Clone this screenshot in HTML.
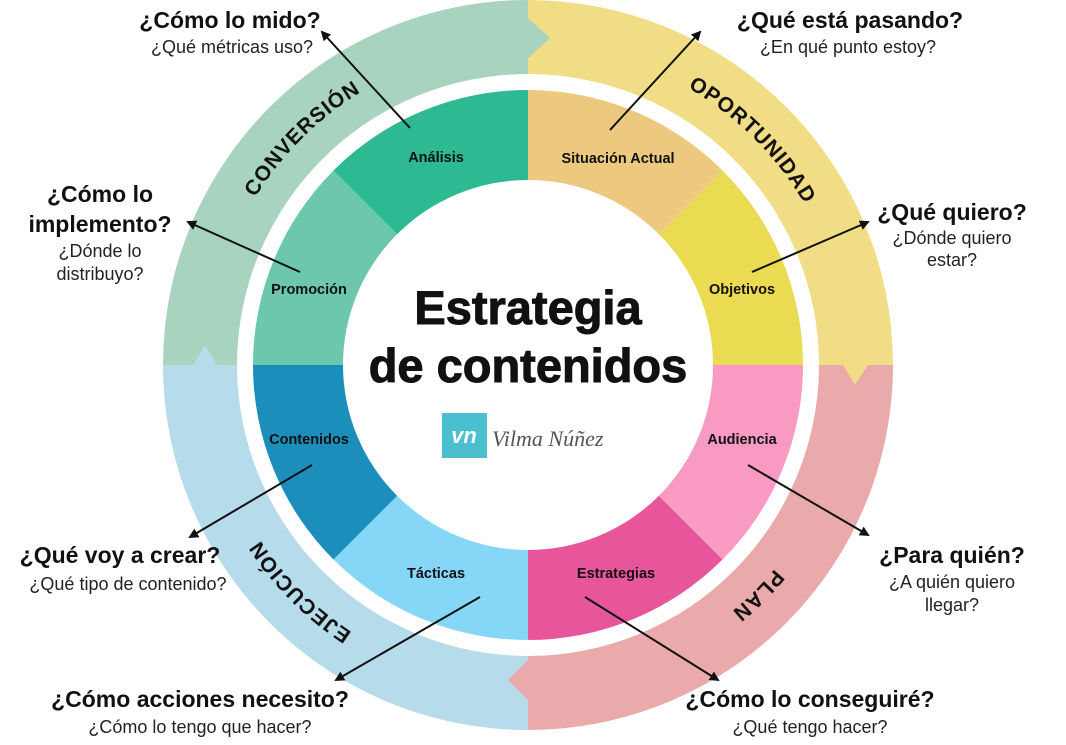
<!DOCTYPE html>
<html><head><meta charset="utf-8"><style>
html,body{margin:0;padding:0;background:#fff;}
svg{display:block;font-family:"Liberation Sans",sans-serif;}
.q{font-weight:bold;font-size:23px;fill:#111;}
.s{font-size:18px;fill:#222;}
.seg{font-weight:bold;font-size:14.5px;fill:#111;}
.ring{font-weight:bold;font-size:21px;fill:#111;letter-spacing:1px;}
</style></head><body>
<svg width="1066" height="745" viewBox="0 0 1066 745" xmlns="http://www.w3.org/2000/svg">
<defs>
<marker id="ah" markerWidth="10" markerHeight="10" refX="8" refY="5" orient="auto" markerUnits="userSpaceOnUse">
<path d="M0,0 L10,5 L0,10 z" fill="#111"/></marker>
<path id="cp" d="M528,45 A320,320 0 1 1 528,685 A320,320 0 1 1 528,45"/>
</defs>
<path d="M528,365 L528,0 A365,365 0 0 1 893,365 Z" fill="#f1dd86"/>
<path d="M528,365 L893,365 A365,365 0 0 1 528,730 Z" fill="#eaaaab"/>
<path d="M528,365 L528,730 A365,365 0 0 1 163,365 Z" fill="#b6dbea"/>
<path d="M528,365 L163,365 A365,365 0 0 1 528,0 Z" fill="#a8d3bf"/>
<path d="M528,18 L550,38 L528,58 Z" fill="#a8d3bf"/>
<path d="M843,365 L855,385 L868,365 Z" fill="#f1dd86"/>
<path d="M508,680 L528,660 L528,700 Z" fill="#eaaaab"/>
<path d="M193,365 L205,345 L217,365 Z" fill="#b6dbea"/>
<circle cx="528" cy="365" r="291" fill="#fff"/>
<text class="ring"><textPath href="#cp" startOffset="251" text-anchor="middle">OPORTUNIDAD</textPath></text>
<text class="ring"><textPath href="#cp" startOffset="754" text-anchor="middle">PLAN</textPath></text>
<text class="ring"><textPath href="#cp" startOffset="1257" text-anchor="middle">EJECUCIÓN</textPath></text>
<text class="ring"><textPath href="#cp" startOffset="1759" text-anchor="middle">CONVERSIÓN</textPath></text>
<path d="M528,365 L528,90 A275,275 0 0 1 722.5,170.5 Z" fill="#ecc97f"/>
<path d="M528,365 L722.5,170.5 A275,275 0 0 1 803,365 Z" fill="#ebdb52"/>
<path d="M528,365 L803,365 A275,275 0 0 1 722.5,559.5 Z" fill="#f89ac2"/>
<path d="M528,365 L722.5,559.5 A275,275 0 0 1 528,640 Z" fill="#e7569a"/>
<path d="M528,365 L528,640 A275,275 0 0 1 333.5,559.5 Z" fill="#86d6f7"/>
<path d="M528,365 L333.5,559.5 A275,275 0 0 1 253,365 Z" fill="#1c8ebb"/>
<path d="M528,365 L253,365 A275,275 0 0 1 333.5,170.5 Z" fill="#6dc7ad"/>
<path d="M528,365 L333.5,170.5 A275,275 0 0 1 528,90 Z" fill="#2db991"/>
<circle cx="528" cy="365" r="185" fill="#fff"/>
<text class="seg" x="618" y="163" text-anchor="middle">Situación Actual</text>
<text class="seg" x="742" y="294" text-anchor="middle">Objetivos</text>
<text class="seg" x="742" y="444" text-anchor="middle">Audiencia</text>
<text class="seg" x="616" y="578" text-anchor="middle">Estrategias</text>
<text class="seg" x="436" y="578" text-anchor="middle">Tácticas</text>
<text class="seg" x="309" y="444" text-anchor="middle">Contenidos</text>
<text class="seg" x="309" y="294" text-anchor="middle">Promoción</text>
<text class="seg" x="436" y="162" text-anchor="middle">Análisis</text>
<text x="528" y="324" text-anchor="middle" font-size="47" font-weight="bold" fill="#111" stroke="#111" stroke-width="1">Estrategia</text>
<text x="528" y="382" text-anchor="middle" font-size="47" font-weight="bold" fill="#111" stroke="#111" stroke-width="1">de contenidos</text>
<rect x="442" y="413" width="45" height="45" fill="#4cbfcf"/>
<text x="464" y="443" text-anchor="middle" font-size="22" font-style="italic" fill="#fff" font-weight="bold">vn</text>
<text x="492" y="446" font-size="22" font-style="italic" fill="#555" font-family="Liberation Serif,serif">Vilma Núñez</text>
<g stroke="#111" stroke-width="2" marker-end="url(#ah)">
<line x1="410" y1="128" x2="322" y2="32"/>
<line x1="610" y1="130" x2="700" y2="32"/>
<line x1="752" y1="272" x2="868" y2="222"/>
<line x1="748" y1="465" x2="868" y2="535"/>
<line x1="585" y1="597" x2="718" y2="680"/>
<line x1="480" y1="597" x2="336" y2="680"/>
<line x1="312" y1="465" x2="190" y2="537"/>
<line x1="300" y1="272" x2="188" y2="222"/>
</g>
<text class="q" x="230" y="28" text-anchor="middle">¿Cómo lo mido?</text>
<text class="s" x="232" y="53" text-anchor="middle">¿Qué métricas uso?</text>
<text class="q" x="850" y="28" text-anchor="middle">¿Qué está pasando?</text>
<text class="s" x="848" y="53" text-anchor="middle">¿En qué punto estoy?</text>
<text class="q" x="952" y="220" text-anchor="middle">¿Qué quiero?</text>
<text class="s" x="952" y="244" text-anchor="middle">¿Dónde quiero</text>
<text class="s" x="952" y="266" text-anchor="middle">estar?</text>
<text class="q" x="952" y="563" text-anchor="middle">¿Para quién?</text>
<text class="s" x="952" y="588" text-anchor="middle">¿A quién quiero</text>
<text class="s" x="952" y="611" text-anchor="middle">llegar?</text>
<text class="q" x="810" y="707" text-anchor="middle">¿Cómo lo conseguiré?</text>
<text class="s" x="810" y="733" text-anchor="middle">¿Qué tengo hacer?</text>
<text class="q" x="200" y="707" text-anchor="middle">¿Cómo acciones necesito?</text>
<text class="s" x="200" y="733" text-anchor="middle">¿Cómo lo tengo que hacer?</text>
<text class="q" x="120" y="563" text-anchor="middle">¿Qué voy a crear?</text>
<text class="s" x="128" y="590" text-anchor="middle">¿Qué tipo de contenido?</text>
<text class="q" x="100" y="202" text-anchor="middle">¿Cómo lo</text>
<text class="q" x="100" y="232" text-anchor="middle">implemento?</text>
<text class="s" x="100" y="257" text-anchor="middle">¿Dónde lo</text>
<text class="s" x="100" y="280" text-anchor="middle">distribuyo?</text>
</svg>
</body></html>
